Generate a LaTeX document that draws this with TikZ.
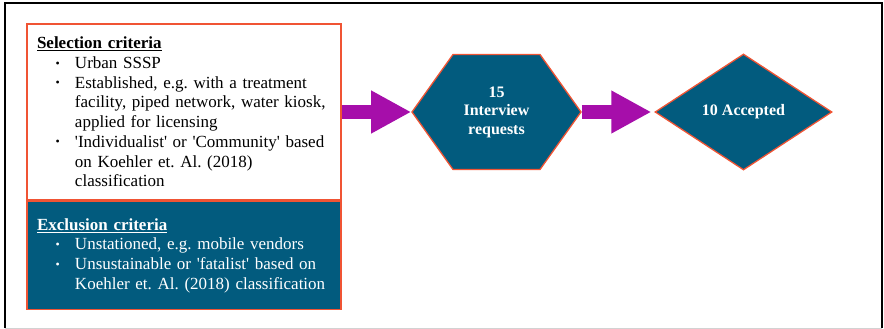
\documentclass[tikz,border=0pt]{standalone}
\usepackage{fontspec}
\setmainfont{Liberation Serif}
\usetikzlibrary{shapes,arrows.meta,positioning}
\definecolor{critblue}{RGB}{2,91,126}
\definecolor{critorange}{RGB}{240,84,52}
\definecolor{critpurple}{RGB}{166,14,170}
\newcommand{\bul}[1]{\par\noindent\makebox[38pt][l]{\hspace{18.5pt}\raisebox{1.5pt}{\fontsize{12}{12}\selectfont\textbullet}}\mbox{#1}}
\newcommand{\cont}[1]{\par\noindent\hspace{38pt}\mbox{#1}}
\newcommand{\sq}{\textquotesingle}

\begin{document}
\begin{tikzpicture}[x=1pt,y=-1pt,
    critbox/.style={draw=critorange, line width=1.6pt, text width=294pt, inner xsep=10pt, minimum width=314pt, align=left, font=\fontsize{17}{19.7}\selectfont\frenchspacing},
    hexbox/.style={signal, signal to=east and west, signal pointer angle=109, draw=critorange, line width=1.3pt, fill=critblue, text=white, inner sep=0pt, minimum width=169pt, minimum height=115pt, align=center, font=\fontsize{16}{18.5}\selectfont\bfseries},
    diabox/.style={diamond, draw=critorange, line width=1.3pt, fill=critblue, text=white, inner sep=0pt, minimum width=177pt, minimum height=116pt, font=\fontsize{16}{18}\selectfont\bfseries},
    flowarrow/.style={critpurple, line width=14pt, -{Triangle[length=40pt,width=40pt]}}]
    \useasboundingbox (0,0) rectangle (884,329);
    \draw[line width=1.2pt] (5,328) -- (5,3) -- (882,3) -- (882,328);
    \draw[gray!35] (5,328) -- (882,328);
    \node[critbox, fill=white, minimum height=176pt] (sel) at (184,112) {\noindent\textbf{\underline{Selection criteria}}
        \bul{Urban SSSP}
        \bul{Established, e.g. with a treatment}
        \cont{facility, piped network, water kiosk,}
        \cont{applied for licensing}
        \bul{\sq Individualist\sq{} or \sq Community\sq{} based}
        \cont{on Koehler et. Al. (2018)}
        \cont{classification}};
    \node[critbox, fill=critblue, text=white, minimum height=108pt, below=0pt of sel] (excl) {\noindent\textbf{\underline{Exclusion criteria}}
        \bul{Unstationed, e.g. mobile vendors}
        \bul{Unsustainable or \sq fatalist\sq{} based on}
        \cont{Koehler et. Al. (2018) classification}};
    \node[hexbox] (req) at (496.5,112) {15\\Interview\\requests};
    \node[diabox] (acc) at (743.5,112) {10 Accepted};
    \draw[flowarrow] (sel.east) -- (req.west);
    \draw[flowarrow, shorten >=3pt] (req.east) -- (acc.west);
\end{tikzpicture}
\end{document}
